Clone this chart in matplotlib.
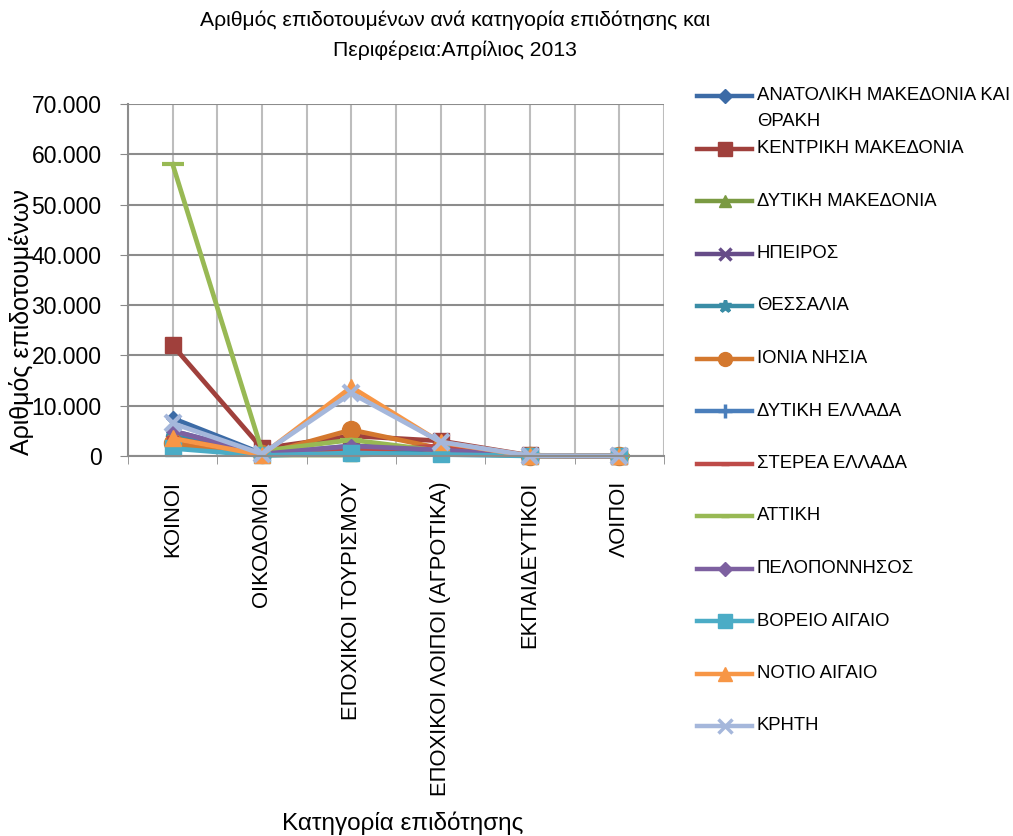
import matplotlib
matplotlib.use("Agg")
import matplotlib.pyplot as plt
from matplotlib.lines import Line2D
from matplotlib.ticker import FuncFormatter, MultipleLocator

plt.rcParams["font.family"] = ["Liberation Sans", "DejaVu Sans"]

categories = ["ΚΟΙΝΟΙ", "ΟΙΚΟΔΟΜΟΙ", "ΕΠΟΧΙΚΟΙ ΤΟΥΡΙΣΜΟΥ",
              "ΕΠΟΧΙΚΟΙ ΛΟΙΠΟΙ (ΑΓΡΟΤΙΚΑ)", "ΕΚΠΑΙΔΕΥΤΙΚΟΙ", "ΛΟΙΠΟΙ"]

anat_makedonia = [7500, 500, 1500, 800, 50, 10]
kentr_makedonia = [22000, 1500, 4000, 3000, 100, 20]
dyt_makedonia = [2000, 200, 200, 500, 30, 5]
ipeiros = [3000, 300, 1500, 1000, 40, 5]
thessalia = [4000, 400, 800, 1500, 50, 10]
ionia = [2500, 300, 5200, 1500, 30, 5]
dyt_ellada = [5000, 400, 2000, 1500, 60, 10]
sterea = [3500, 300, 1000, 2000, 40, 5]
attiki = [58000, 1000, 3200, 1000, 150, 30]
peloponnisos = [5000, 400, 2000, 1200, 60, 10]
voreio_aigaio = [1500, 100, 600, 300, 10, 5]
notio_aigaio = [3500, 200, 13700, 2700, 20, 5]
kriti = [6500, 400, 12500, 2800, 50, 10]

region_names = ["ΑΝΑΤΟΛΙΚΗ ΜΑΚΕΔΟΝΙΑ ΚΑΙ\nΘΡΑΚΗ", "ΚΕΝΤΡΙΚΗ ΜΑΚΕΔΟΝΙΑ",
                "ΔΥΤΙΚΗ ΜΑΚΕΔΟΝΙΑ", "ΗΠΕΙΡΟΣ", "ΘΕΣΣΑΛΙΑ", "ΙΟΝΙΑ ΝΗΣΙΑ",
                "ΔΥΤΙΚΗ ΕΛΛΑΔΑ", "ΣΤΕΡΕΑ ΕΛΛΑΔΑ", "ΑΤΤΙΚΗ", "ΠΕΛΟΠΟΝΝΗΣΟΣ",
                "ΒΟΡΕΙΟ ΑΙΓΑΙΟ", "ΝΟΤΙΟ ΑΙΓΑΙΟ", "ΚΡΗΤΗ"]
region_values = [anat_makedonia, kentr_makedonia, dyt_makedonia, ipeiros,
                 thessalia, ionia, dyt_ellada, sterea, attiki, peloponnisos,
                 voreio_aigaio, notio_aigaio, kriti]

# excel 2007 style colours and markers
colors = ["#3C6BA6", "#A0403C", "#7A9A42", "#664C88", "#3A8DA6", "#D4782E",
          "#4A7EBB", "#BE4B48", "#98B954", "#7D60A0", "#4BACC6", "#F79646",
          "#A5B7DB"]
markers = ["D", "s", "^", "x", "*", "o", "+", "_", "_", "D", "s", "^", "x"]
msizes = [7, 12, 9, 9, 9, 13, 10, 8, 16, 7, 12, 11, 11]

fig = plt.figure(figsize=(10.13, 8.36), dpi=100)
ax = fig.add_axes([128 / 1013, 1 - 456 / 836, (664 - 128) / 1013, (456 - 104) / 836])

x = list(range(len(categories)))
for vals, c, m, ms in zip(region_values, colors, markers, msizes):
    ax.plot(x, vals, color=c, lw=3.4, marker=m, markersize=ms,
            markeredgewidth=3 if m in "x+_*" else 1, markeredgecolor=c,
            solid_joinstyle="round", clip_on=False)

ax.set_xlim(-0.5, len(categories) - 0.5)
ax.set_ylim(0, 70000)
ax.yaxis.set_major_locator(MultipleLocator(10000))
ax.yaxis.set_major_formatter(FuncFormatter(lambda v, p: f"{int(v):,}".replace(",", ".")))
ax.set_xticks(x)
ax.set_xticklabels(categories, rotation=90, fontsize=15.8, va="top")
ax.set_xticks([i - 0.5 for i in range(len(categories) + 1)], minor=True)
ax.tick_params(axis="y", labelsize=16.5, length=6, color="#888888", pad=13)
ax.tick_params(axis="x", which="major", length=0, pad=18)
ax.tick_params(axis="x", which="minor", length=6, color="#888888", direction="out")

ax.grid(True, axis="y", color="#8C8C8C", lw=1.5)
ax.grid(True, axis="x", which="both", color="#BDBDBD", lw=1.5)
ax.set_axisbelow(True)
for s in ["top", "right"]:
    ax.spines[s].set_visible(False)
for s in ["left", "bottom"]:
    ax.spines[s].set_color("#8C8C8C")
    ax.spines[s].set_linewidth(1.5)

fig.text(455 / 1013, 1 - 20 / 836, "Αριθμός επιδοτουμένων ανά κατηγορία επιδότησης και",
         ha="center", va="center", fontsize=15.2)
fig.text(455 / 1013, 1 - 50 / 836, "Περιφέρεια:Απρίλιος 2013",
         ha="center", va="center", fontsize=15.2)
fig.text(403 / 1013, 1 - 823 / 836, "Κατηγορία επιδότησης",
         ha="center", va="center", fontsize=17.5)
fig.text(22 / 1013, 1 - 322 / 836, "Αριθμός επιδοτουμένων",
         ha="center", va="center", rotation=90, fontsize=18)

# legend drawn by hand so the wrapped label lines up like the original
y0, step = 96, 52.5
for i, (name, c, m, ms) in enumerate(zip(region_names, colors, markers, msizes)):
    yy = 1 - (y0 + i * step) / 836
    fig.add_artist(Line2D([697 / 1013, 752 / 1013], [yy, yy], color=c, lw=3.2,
                          transform=fig.transFigure))
    fig.add_artist(Line2D([724.5 / 1013], [yy], color=c, marker=m,
                          markersize=min(ms, 10) if m != "_" else 6,
                          markeredgewidth=2.5 if m in "x+_*" else 1,
                          markeredgecolor=c, transform=fig.transFigure))
    fig.text(757 / 1013, yy, name.split("\n")[0], ha="left", va="center", fontsize=13.3)
    if "\n" in name:
        fig.text(757 / 1013, 1 - (y0 + 25) / 836, name.split("\n")[1],
                 ha="left", va="center", fontsize=13.3)

fig.savefig("out.png", dpi=100)
